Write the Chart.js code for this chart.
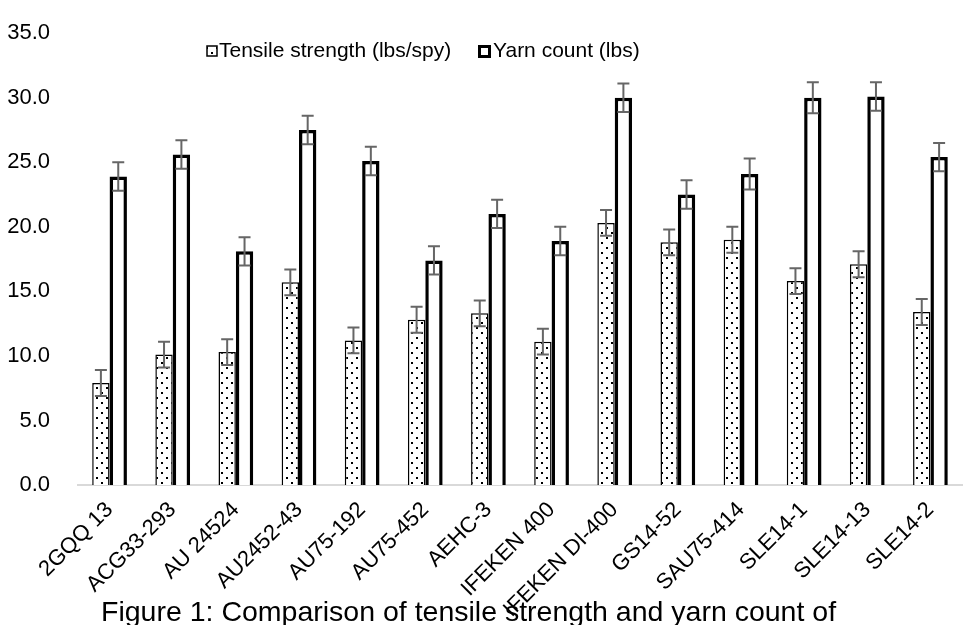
<!DOCTYPE html>
<html>
<head>
<meta charset="utf-8">
<script src="https://cdn.jsdelivr.net/npm/chart.js@4.4.1/dist/chart.umd.min.js"></script>
<style>
    html, body { margin: 0; padding: 0; background: #fff; }
    #wrap { width: 963px; height: 625px; position: relative; }
</style>
</head>
<body>
<div id="wrap"><canvas id="chart"></canvas></div>
<script>
// --- data ---
const categories = ['2GQQ 13', 'ACG33-293', 'AU 24524', 'AU2452-43', 'AU75-192', 'AU75-452', 'AEHC-3',
    'IFEKEN 400', 'IFEKEN DI-400', 'GS14-52', 'SAU75-414', 'SLE14-1', 'SLE14-13', 'SLE14-2'];
const tensileValues = [7.9, 10.1, 10.3, 15.7, 11.2, 12.8, 13.3, 11.1, 20.3, 18.8, 19.0, 15.8, 17.1, 13.4];
const yarnValues = [23.9, 25.6, 18.1, 27.5, 25.1, 17.4, 21.0, 18.9, 30.0, 22.5, 24.1, 30.0, 30.1, 25.4];
const tensileErrors = [1.0, 1.0, 1.0, 1.0, 1.0, 1.0, 1.0, 1.0, 1.0, 1.0, 1.0, 1.0, 1.0, 1.0];
const yarnErrors = [1.1, 1.1, 1.1, 1.1, 1.1, 1.1, 1.1, 1.1, 1.1, 1.1, 1.2, 1.2, 1.1, 1.1];
const seriesLabels = ['Tensile strength (lbs/spy)', 'Yarn count (lbs)'];
const yMin = 0, yMax = 35, yStep = 5;
const captionText = 'Figure 1: Comparison of tensile strength and yarn count of';

const FONT = '"Liberation Sans", Arial, sans-serif';

// dotted fill like the Office "5%" pattern
function makeDots() {
    const c = document.createElement('canvas');
    c.width = 10; c.height = 10;
    const g = c.getContext('2d');
    g.fillStyle = '#fff';
    g.fillRect(0, 0, 10, 10);
    g.fillStyle = '#000';
    g.fillRect(1, 2, 2, 2);
    g.fillRect(6, 7, 2, 2);
    return g.createPattern(c, 'repeat');
}
const dots = makeDots();

const errorBars = {
    id: 'errorBars',
    afterDatasetsDraw(chart) {
        const ctx = chart.ctx;
        const y = chart.scales.y;
        const errs = [tensileErrors, yarnErrors];
        ctx.save();
        ctx.strokeStyle = '#666';
        ctx.lineWidth = 2;
        chart.data.datasets.forEach((ds, di) => {
            chart.getDatasetMeta(di).data.forEach((bar, i) => {
                const v = ds.data[i], e = errs[di][i];
                const yt = y.getPixelForValue(v + e), yb = y.getPixelForValue(v - e);
                ctx.beginPath();
                ctx.moveTo(bar.x, yt); ctx.lineTo(bar.x, yb);
                ctx.moveTo(bar.x - 6, yt); ctx.lineTo(bar.x + 6, yt);
                ctx.moveTo(bar.x - 6, yb); ctx.lineTo(bar.x + 6, yb);
                ctx.stroke();
            });
        });
        ctx.restore();
    }
};

// legend and caption sit where the original put them
const extras = {
    id: 'extras',
    afterDraw(chart) {
        const ctx = chart.ctx;
        ctx.save();
        ctx.font = '21px ' + FONT;
        ctx.textBaseline = 'middle';
        const ly = 51;
        // tensile box
        ctx.fillStyle = dots;
        ctx.fillRect(207, ly - 5, 10, 10);
        ctx.strokeStyle = '#000';
        ctx.lineWidth = 1.5;
        ctx.strokeRect(207, ly - 5, 10, 10);
        ctx.fillStyle = '#000';
        ctx.fillText(seriesLabels[0], 219, ly);
        // yarn box
        ctx.lineWidth = 3;
        ctx.strokeRect(479.5, ly - 4.5, 10, 10);
        ctx.fillText(seriesLabels[1], 493, ly);
        // caption
        ctx.font = '28.5px ' + FONT;
        ctx.textBaseline = 'alphabetic';
        ctx.fillText(captionText, 101, 621);
        ctx.restore();
    }
};

new Chart(document.getElementById('chart'), {
    type: 'bar',
    data: {
        labels: categories,
        datasets: [{
            label: seriesLabels[0],
            data: tensileValues,
            backgroundColor: dots,
            borderColor: '#000',
            borderWidth: 1.5
        }, {
            label: seriesLabels[1],
            data: yarnValues,
            backgroundColor: '#fff',
            borderColor: '#000',
            borderWidth: 3.5
        }]
    },
    options: {
        responsive: true,
        maintainAspectRatio: false,
        animation: false,
        devicePixelRatio: 1,
        layout: { padding: { top: 22, right: 1, left: 0, bottom: 0 } },
        datasets: { bar: { categoryPercentage: 0.55, barPercentage: 1.0 } },
        plugins: { legend: { display: false }, tooltip: { enabled: false } },
        scales: {
            x: {
                grid: { display: false },
                border: { color: '#d9d9d9', width: 2 },
                ticks: {
                    color: '#000', font: { size: 22, family: FONT },
                    maxRotation: 45, minRotation: 45, autoSkip: false, padding: 4
                },
                afterFit(scale) { scale.height = 140; }
            },
            y: {
                min: yMin, max: yMax,
                grid: { display: false },
                border: { display: false },
                ticks: {
                    stepSize: yStep, color: '#000', font: { size: 22, family: FONT }, padding: 20,
                    callback: v => v.toFixed(1)
                },
                afterFit(scale) { scale.width = 78; }
            }
        }
    },
    plugins: [errorBars, extras]
});
</script>
</body>
</html>
